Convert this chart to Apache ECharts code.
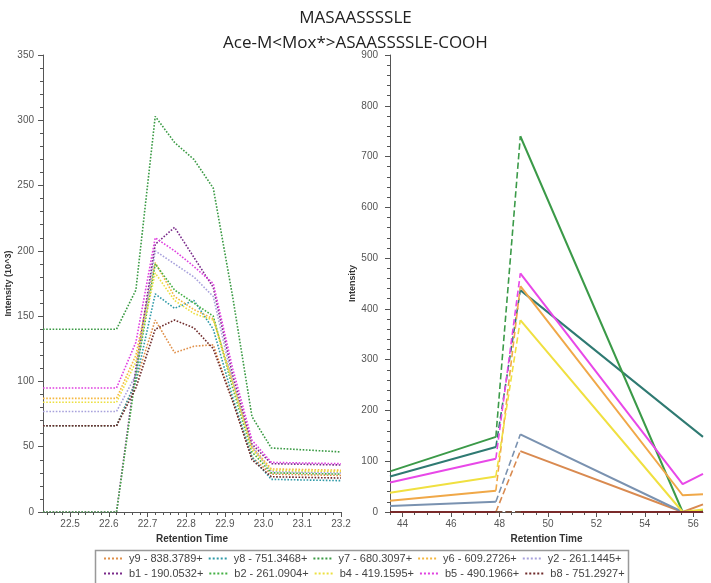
<!DOCTYPE html>
<html>
<head>
<meta charset="utf-8">
<script src="https://cdn.jsdelivr.net/npm/echarts@6/dist/echarts.min.js"></script>
<style>
html,body{margin:0;padding:0;background:#fff}
#chart{width:711px;height:583px}
</style>
</head>
<body>
<div id="chart"></div>
<script>
// retention times (x points)
var leftTime = [22.43, 22.62, 22.67, 22.72, 22.77, 22.82, 22.87, 22.92, 22.97, 23.02, 23.2];
var rightTime = [43.48, 47.85, 48.86, 55.56, 56.4];
var leftTickLabels = [22.5, 22.6, 22.7, 22.8, 22.9, 23.0, 23.1, 23.2];
var rightTickLabels = [44, 46, 48, 50, 52, 54, 56];

var transitionNames = ["y9 - 838.3789+", "y8 - 751.3468+", "y7 - 680.3097+", "y6 - 609.2726+", "y2 - 261.1445+",
    "b1 - 190.0532+", "b2 - 261.0904+", "b4 - 419.1595+", "b5 - 490.1966+", "b8 - 751.2927+"];

// left panel, intensity (10^3)
var y9Left = [66, 66, 100, 147, 122, 127, 128, 85, 42, 29, 28];
var y8Left = [66, 66, 100, 167, 156, 162, 140, 88, 42, 25, 24];
var y7Left = [140, 140, 170, 303, 283, 270, 248, 165, 73, 49, 46];
var y6Left = [87, 87, 120, 191, 165, 155, 148, 100, 50, 33, 32];
var y2Left = [77, 77, 105, 200, 190, 180, 165, 100, 50, 31, 30];
var b1Left = [0, 0, 110, 205, 218, 195, 172, 105, 52, 37, 36];
var b2Left = [0, 0, 105, 190, 170, 160, 150, 95, 46, 30, 29];
var b4Left = [84, 84, 115, 183, 162, 152, 147, 98, 48, 32, 31];
var b5Left = [95, 95, 130, 210, 200, 188, 175, 110, 55, 38, 37];
var b8Left = [66, 66, 95, 140, 147, 141, 125, 85, 40, 27, 26];

// right panel, intensity
var y9Right = [0, 0, 120, 0, 15];
var y8Right = [70, 128, 437, 180, 148];
var y7Right = [80, 148, 740, 0, 2];
var y6Right = [22, 42, 445, 33, 35];
var y2Right = [12, 20, 153, 0, 0];
var b1Right = [0, 0, 0, 0, 0];
var b2Right = [0, 0, 0, 0, 0];
var b4Right = [38, 70, 378, 0, 5];
var b5Right = [58, 105, 470, 55, 75];
var b8Right = [0, 0, 0, 0, 0];

var leftData = [y9Left, y8Left, y7Left, y6Left, y2Left, b1Left, b2Left, b4Left, b5Left, b8Left];
var rightData = [y9Right, y8Right, y7Right, y6Right, y2Right, b1Right, b2Right, b4Right, b5Right, b8Right];

var leftColors = ["#e0904a", "#2f9aa8", "#3a9a44", "#f5b840", "#a8a2dc", "#7a2a8a", "#44b044", "#ece040", "#e040e0", "#6e2a2a"];
var rightColors = ["#d98a50", "#2f7a72", "#3b9a48", "#f0a848", "#7a92b0", "#8a3a9a", "#4aa84a", "#f0e040", "#e848e8", "#7a2a2a"];

function steps(a, b, s) {
    var out = [];
    for (var v = a; v <= b + 1e-9; v += s) out.push(Math.round(v * 100) / 100);
    return out;
}

var chart = echarts.init(document.getElementById("chart"), null, {renderer: "canvas"});

var axisFont = {color: "#555", fontSize: 10, fontFamily: "Liberation Sans"};
var nameFont = {color: "#333", fontSize: 10, fontWeight: "bold", fontFamily: "Liberation Sans"};
var yNameFont = {color: "#333", fontSize: 9, fontWeight: "bold", fontFamily: "Liberation Sans"};
var lineCol = {lineStyle: {color: "#555", width: 1}};

var series = [];
// 左图 虚点线
leftData.forEach(function (arr, i) {
    series.push({
        name: transitionNames[i], type: "line", xAxisIndex: 0, yAxisIndex: 0,
        symbol: "none", silent: true,
        lineStyle: {color: leftColors[i], width: 1.6, type: "dotted"},
        itemStyle: {color: leftColors[i]},
        data: arr.map(function (v, k) { return [leftTime[k], v]; })
    });
});
// 右图 实线 + 上升段虚线
rightData.forEach(function (arr, i) {
    series.push({
        name: transitionNames[i], type: "line", xAxisIndex: 2, yAxisIndex: 1,
        symbol: "none", silent: true, z: 3,
        lineStyle: {color: rightColors[i], width: 2},
        itemStyle: {color: rightColors[i]},
        data: [[rightTime[0], arr[0]], [rightTime[1], arr[1]], [rightTime[1] + 0.01, "-"],
            [rightTime[2], arr[2]], [rightTime[3], arr[3]], [rightTime[4], arr[4]]]
    });
    series.push({
        name: transitionNames[i], type: "line", xAxisIndex: 2, yAxisIndex: 1,
        symbol: "none", silent: true, z: 3,
        lineStyle: {color: rightColors[i], width: 1.6, type: "dashed"},
        itemStyle: {color: rightColors[i]},
        data: [[rightTime[1], arr[1]], [rightTime[2], arr[2]]]
    });
});

function legendRow(top, names) {
    return {
        top: top, left: 98, itemWidth: 20, itemHeight: 8, itemGap: 5,
        selectedMode: false, data: names,
        itemStyle: {opacity: 0},
        textStyle: {color: "#444", fontSize: 11, fontFamily: "Liberation Sans", width: 80, overflow: "truncate"}
    };
}

chart.setOption({
    animation: false,
    backgroundColor: "#fff",
    title: {
        text: "MASAASSSSLE\nAce-M<Mox*>ASAASSSSLE-COOH",
        left: "center", top: 1,
        textStyle: {fontSize: 17, fontWeight: "normal", color: "#222", lineHeight: 25, fontFamily: "Open Sans"}
    },
    legend: [legendRow(548, transitionNames.slice(0, 5)), legendRow(563, transitionNames.slice(5))],
    graphic: [{
        type: "rect", left: 93, top: 548, shape: {width: 533, height: 34},
        style: {fill: "none", stroke: "#999", lineWidth: 1.5}, silent: true
    }],
    grid: [
        {left: 43, top: 55, width: 298, height: 457},
        {left: 390, top: 55, width: 313, height: 457}
    ],
    xAxis: [
        {
            type: "value", gridIndex: 0, min: 22.43, max: 23.2,
            name: "Retention Time", nameLocation: "middle", nameGap: 13, nameTextStyle: nameFont,
            axisLine: lineCol, splitLine: {show: false},
            axisTick: {length: 5, lineStyle: {color: "#555"}, customValues: leftTickLabels},
            axisLabel: Object.assign({margin: 7, customValues: leftTickLabels, formatter: function (v) { return v.toFixed(1); }}, axisFont)
        },
        {
            type: "value", gridIndex: 0, min: 22.43, max: 23.2, position: "bottom",
            axisLine: {show: false}, splitLine: {show: false}, axisLabel: {show: false},
            axisTick: {length: 3, lineStyle: {color: "#555"}, customValues: steps(22.44, 23.2, 0.02)}
        },
        {
            type: "value", gridIndex: 1, min: 43.48, max: 56.4,
            name: "Retention Time", nameLocation: "middle", nameGap: 13, nameTextStyle: nameFont,
            axisLine: lineCol, splitLine: {show: false},
            axisTick: {length: 5, lineStyle: {color: "#555"}, customValues: rightTickLabels},
            axisLabel: Object.assign({margin: 7, customValues: rightTickLabels}, axisFont)
        },
        {
            type: "value", gridIndex: 1, min: 43.48, max: 56.4, position: "bottom",
            axisLine: {show: false}, splitLine: {show: false}, axisLabel: {show: false},
            axisTick: {length: 3, lineStyle: {color: "#555"}, customValues: steps(43.5, 56, 0.5)}
        }
    ],
    yAxis: [
        {
            type: "value", gridIndex: 0, min: 0, max: 350, interval: 50,
            name: "Intensity (10^3)", nameLocation: "middle", nameGap: 22, nameTextStyle: yNameFont,
            axisLine: Object.assign({show: true}, lineCol), splitLine: {show: false},
            axisTick: {show: true, length: 5, lineStyle: {color: "#555"}},
            minorTick: {show: true, splitNumber: 5, length: 3, lineStyle: {color: "#555"}},
            axisLabel: Object.assign({margin: 9}, axisFont)
        },
        {
            type: "value", gridIndex: 1, min: 0, max: 900, interval: 100,
            name: "Intensity", nameLocation: "middle", nameGap: 24, nameTextStyle: yNameFont,
            axisLine: Object.assign({show: true}, lineCol), splitLine: {show: false},
            axisTick: {show: true, length: 5, lineStyle: {color: "#555"}},
            minorTick: {show: true, splitNumber: 5, length: 3, lineStyle: {color: "#555"}},
            axisLabel: Object.assign({margin: 12}, axisFont)
        }
    ],
    series: series
});
</script>
</body>
</html>
